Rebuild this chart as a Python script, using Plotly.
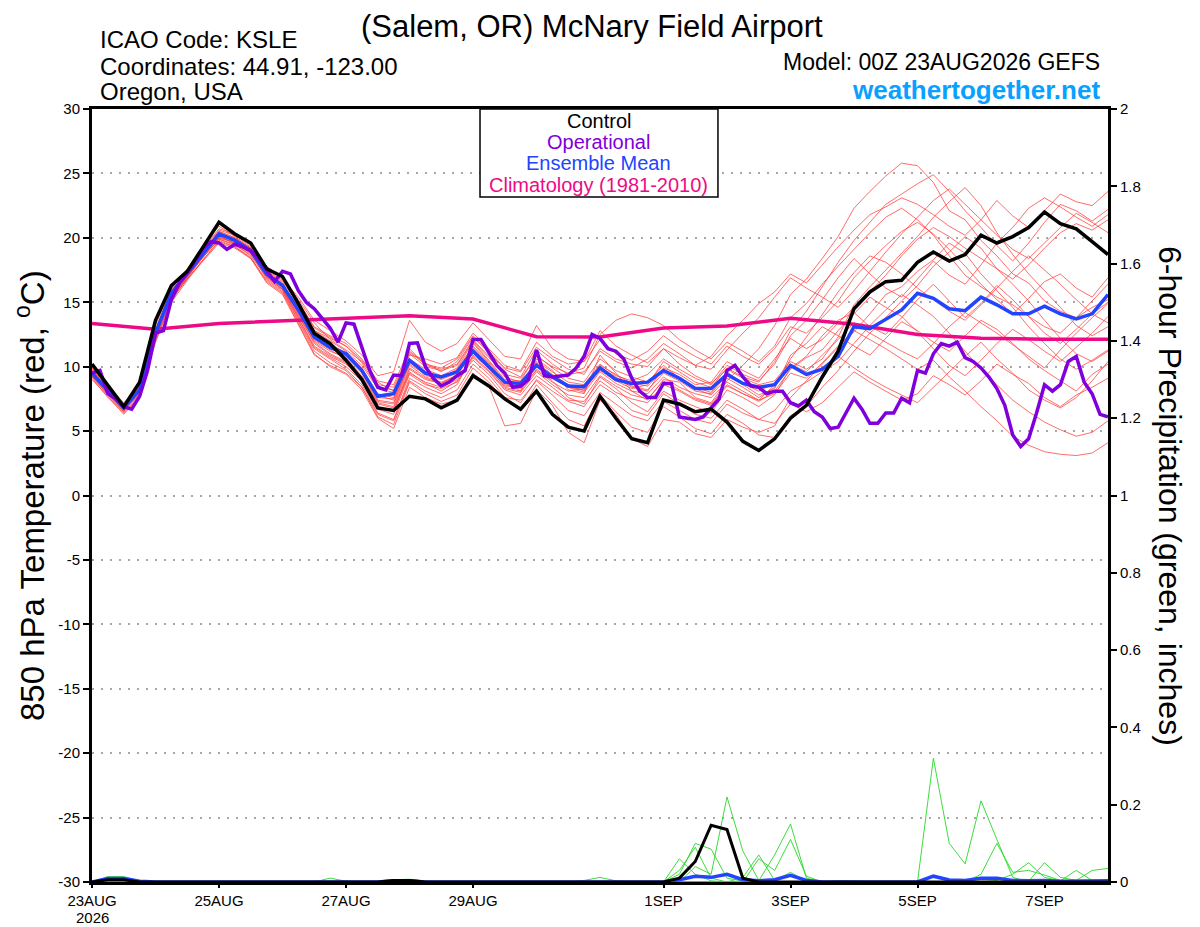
import pandas as pd
import plotly.graph_objects as go

# GEFS 00Z 23AUG2026, 850 hPa temperature (C), 6-hourly steps 0-384h
m01 = [9.3, 7.8, 6.5, 8.6, 13.2, 16.1, 17.5, 19.4, 20.9, 20.1, 19.3, 17.0, 16.0,
       13.8, 11.6, 10.8, 10.2, 9.1, 6.9, 6.5, 9.8, 9.0, 8.7, 9.2, 11.8, 10.4,
       8.9, 8.1, 10.6, 9.7, 8.2, 7.9, 10.9, 9.5, 8.1, 7.4, 9.0, 8.8, 7.6,
       7.2, 8.9, 10.1, 11.4, 13.2, 15.6, 16.8, 18.4, 20.1, 22.3, 23.6, 24.8, 25.8,
       25.6, 24.3, 22.1, 21.4, 19.8, 18.6, 17.2, 16.5, 15.1, 14.3, 13.8, 14.6, 15.2]
m02 = [9.8, 8.4, 7.1, 8.0, 12.2, 15.4, 17.0, 18.6, 20.0, 19.6, 18.8, 17.4, 16.6,
       14.9, 12.8, 12.0, 11.2, 10.1, 8.3, 8.0, 11.2, 10.3, 9.6, 10.4, 12.3, 11.1,
       9.8, 9.2, 11.3, 10.2, 9.4, 9.6, 11.2, 10.4, 9.9, 10.6, 11.8, 11.0, 10.1,
       10.8, 12.4, 13.6, 14.9, 15.8, 17.2, 16.5, 17.9, 19.3, 20.6, 21.8, 22.4, 23.1,
       22.6, 21.8, 20.9, 20.2, 21.4, 22.9, 21.7, 20.8, 22.1, 23.4, 22.8, 22.5, 23.6]
m03 = [9.1, 7.6, 6.4, 7.8, 12.0, 15.1, 16.9, 18.5, 20.1, 19.9, 19.2, 17.8, 16.9,
       15.2, 13.4, 12.1, 11.3, 10.4, 8.8, 8.1, 10.9, 10.6, 10.2, 10.7, 12.6, 11.4,
       10.1, 9.7, 11.9, 10.8, 10.2, 10.4, 12.8, 11.6, 10.9, 10.3, 11.4, 10.2, 9.3,
       8.7, 9.8, 9.1, 8.6, 8.9, 10.4, 9.8, 10.6, 12.3, 14.8, 16.2, 17.5, 18.8,
       20.1, 21.6, 22.8, 23.9, 22.5, 20.4, 18.7, 17.2, 15.9, 14.6, 13.2, 12.4, 13.1]
m04 = [9.6, 8.3, 6.9, 8.4, 12.9, 15.9, 17.4, 18.9, 20.2, 19.5, 18.6, 16.9, 16.0,
       13.9, 11.9, 11.0, 10.4, 9.2, 7.1, 6.8, 9.6, 8.7, 8.1, 8.9, 10.5, 9.4,
       7.9, 7.2, 9.0, 8.1, 7.3, 6.9, 8.6, 7.8, 6.6, 6.2, 7.9, 7.1, 6.3,
       6.0, 7.4, 6.7, 5.9, 5.6, 7.1, 6.5, 7.2, 8.4, 9.6, 8.8, 8.1, 7.4,
       7.9, 9.3, 8.6, 7.8, 8.9, 10.2, 9.4, 8.7, 7.6, 6.9, 7.8, 8.4, 9.1]
m05 = [9.4, 8.0, 6.7, 8.1, 12.4, 15.5, 16.8, 18.2, 19.6, 19.2, 18.4, 16.7, 15.8,
       13.6, 11.4, 10.6, 9.8, 8.6, 6.4, 5.9, 9.1, 8.4, 7.9, 8.6, 10.9, 9.9,
       8.4, 8.1, 9.8, 8.9, 7.6, 7.1, 9.2, 8.3, 7.2, 6.5, 8.1, 7.4, 6.9,
       6.4, 8.2, 7.6, 6.9, 7.8, 9.9, 10.8, 12.4, 13.6, 14.2, 13.1, 12.5, 13.8,
       15.2, 16.4, 15.1, 13.8, 14.9, 16.3, 15.2, 13.9, 12.6, 11.8, 12.9, 14.1, 13.4]
m06 = [9.7, 8.2, 7.0, 8.3, 12.7, 15.8, 17.3, 18.9, 20.5, 20.0, 19.2, 17.3, 16.4,
       14.6, 12.4, 11.7, 11.1, 9.9, 7.8, 7.4, 10.2, 9.4, 9.0, 9.5, 11.4, 10.1,
       8.6, 8.3, 10.0, 9.1, 8.4, 8.0, 9.6, 8.7, 8.1, 7.9, 9.2, 8.4, 7.9,
       7.6, 8.8, 8.1, 7.4, 7.9, 9.5, 9.1, 10.3, 11.6, 12.8, 12.1, 11.4, 10.6,
       9.8, 10.5, 9.2, 8.1, 6.9, 5.8, 4.6, 3.9, 3.4, 3.2, 3.1, 3.3, 4.1]
m07 = [9.2, 7.9, 6.6, 7.9, 12.3, 15.3, 16.9, 18.6, 20.4, 19.7, 18.9, 16.8, 15.9,
       13.5, 11.2, 10.3, 9.7, 8.4, 6.1, 5.5, 8.8, 7.9, 7.3, 7.8, 9.9, 8.8,
       7.4, 6.6, 8.6, 7.2, 5.9, 5.4, 7.8, 6.5, 5.3, 4.9, 6.9, 6.1, 5.2,
       4.8, 6.3, 5.6, 4.7, 4.5, 6.2, 6.9, 8.4, 9.7, 11.2, 12.6, 13.8, 15.1,
       16.3, 17.8, 18.9, 20.1, 19.2, 17.6, 16.4, 15.1, 13.6, 12.2, 11.0, 10.4, 11.2]
m08 = [9.9, 8.5, 7.2, 8.5, 12.8, 15.6, 17.1, 18.7, 20.0, 19.7, 19.1, 17.5, 16.7,
       15.0, 13.1, 12.4, 11.8, 10.6, 8.9, 8.6, 11.4, 10.1, 9.8, 10.2, 12.1, 10.8,
       9.2, 8.8, 10.4, 9.6, 8.8, 8.6, 10.2, 9.3, 8.9, 9.4, 10.6, 9.8, 9.1,
       8.6, 10.1, 9.4, 8.9, 10.2, 12.4, 13.6, 15.2, 16.9, 18.4, 17.2, 16.1, 15.4,
       16.8, 18.2, 17.1, 16.4, 17.9, 19.6, 20.8, 22.3, 23.1, 22.4, 21.6, 20.9, 21.8]
m09 = [9.5, 8.1, 6.9, 8.2, 12.5, 15.6, 17.1, 18.7, 20.2, 19.8, 19.1, 17.2, 16.2,
       14.1, 12.0, 11.2, 10.7, 9.5, 7.3, 7.1, 10.1, 9.2, 8.8, 9.3, 11.1, 9.8,
       8.5, 8.4, 9.7, 8.8, 8.1, 8.3, 9.8, 9.0, 8.5, 8.2, 9.5, 8.9, 8.1,
       7.9, 9.4, 8.6, 7.8, 8.3, 10.9, 11.8, 13.1, 12.4, 11.6, 10.9, 12.2, 13.5,
       12.8, 11.9, 11.2, 12.4, 13.6, 12.9, 11.8, 10.6, 9.7, 8.9, 8.1, 9.4, 10.2]
m10 = [9.0, 7.7, 6.3, 7.7, 11.9, 15.0, 16.7, 18.3, 19.8, 19.3, 18.5, 16.6, 15.7,
       13.3, 11.0, 10.0, 9.4, 8.2, 6.0, 5.2, 8.4, 7.6, 7.1, 7.4, 9.5, 8.5,
       5.4, 5.6, 8.2, 7.0, 4.9, 4.1, 7.4, 6.3, 4.4, 3.8, 5.9, 5.7, 4.8,
       4.5, 5.9, 5.3, 4.9, 5.4, 7.6, 8.9, 10.2, 11.5, 12.7, 14.1, 15.6, 16.2,
       17.4, 18.3, 19.6, 18.8, 17.2, 15.9, 14.6, 13.1, 11.8, 10.6, 9.8, 10.5, 11.3]
m11 = [9.6, 8.2, 6.8, 8.3, 12.6, 15.8, 17.4, 19.1, 20.6, 20.2, 19.4, 17.6, 16.8,
       15.4, 13.6, 12.8, 12.0, 10.9, 9.3, 9.6, 13.6, 11.9, 11.2, 11.8, 13.4, 12.1,
       10.8, 10.6, 13.2, 11.4, 10.6, 10.4, 12.1, 11.0, 10.5, 11.2, 12.4, 11.5, 10.8,
       10.2, 11.6, 10.8, 10.2, 11.4, 13.1, 12.6, 13.8, 15.1, 16.9, 18.2, 19.4, 20.5,
       21.2, 20.3, 19.1, 17.8, 16.4, 15.2, 14.1, 15.3, 16.6, 17.2, 16.1, 15.4, 16.9]
m12 = [9.3, 7.9, 6.6, 8.0, 12.4, 15.6, 17.3, 18.8, 20.3, 19.9, 19.0, 17.1, 16.3,
       14.3, 12.2, 11.4, 10.9, 9.6, 7.6, 7.5, 10.4, 9.3, 9.1, 9.8, 11.6, 10.3,
       8.8, 8.6, 10.3, 9.4, 8.6, 8.1, 10.0, 9.2, 8.4, 8.1, 9.9, 9.4, 8.6,
       8.8, 10.4, 9.7, 9.1, 10.6, 12.2, 11.4, 12.1, 13.4, 14.6, 15.8, 17.1, 18.6,
       19.9, 20.8, 20.1, 19.2, 18.4, 17.6, 16.8, 17.9, 19.2, 20.4, 21.1, 20.6, 21.4]
m13 = [9.8, 8.3, 7.0, 8.4, 12.8, 15.9, 17.2, 18.8, 20.1, 19.6, 18.9, 17.3, 16.5,
       14.5, 12.5, 11.8, 11.0, 9.8, 7.9, 7.6, 10.6, 9.8, 9.3, 9.9, 11.9, 10.5,
       9.0, 8.9, 10.9, 9.9, 9.1, 8.8, 10.6, 9.7, 9.2, 8.8, 10.1, 9.1, 8.4,
       8.0, 9.6, 8.7, 8.1, 8.7, 10.1, 9.3, 9.9, 10.8, 9.9, 9.1, 8.4, 7.8,
       7.2, 8.4, 9.6, 10.8, 11.9, 10.6, 9.5, 8.2, 7.4, 6.8, 7.6, 8.9, 10.4]
m14 = [9.4, 8.0, 6.7, 8.1, 12.5, 15.7, 17.2, 18.7, 20.2, 19.8, 19.0, 17.2, 16.4,
       14.7, 12.8, 12.2, 11.6, 10.3, 8.4, 8.2, 11.0, 10.0, 9.7, 10.1, 12.0, 10.7,
       9.4, 9.1, 10.8, 10.0, 9.5, 9.9, 12.5, 13.6, 14.1, 13.8, 13.2, 12.1, 11.3,
       10.6, 11.9, 11.2, 10.4, 11.6, 13.8, 14.9, 16.4, 17.8, 19.1, 20.4, 21.6, 22.3,
       21.4, 20.2, 18.6, 17.1, 16.2, 15.4, 14.8, 13.9, 13.1, 12.6, 13.8, 15.1, 16.4]
m15 = [9.7, 8.3, 6.9, 8.2, 12.6, 15.6, 17.0, 18.5, 19.9, 19.4, 18.7, 17.0, 16.1,
       14.0, 11.8, 10.9, 10.3, 9.0, 6.7, 6.3, 9.4, 8.6, 8.3, 8.8, 10.7, 9.6,
       8.2, 7.8, 9.3, 8.4, 7.4, 7.3, 8.9, 8.0, 7.5, 7.2, 8.6, 8.1, 7.4,
       7.0, 8.5, 7.9, 7.3, 8.1, 9.8, 10.7, 11.3, 12.8, 14.1, 15.4, 14.6, 13.9,
       12.7, 11.4, 10.1, 9.3, 10.5, 11.8, 12.9, 12.1, 11.2, 10.4, 11.5, 12.6, 13.9]
m16 = [9.5, 8.2, 6.8, 8.3, 12.8, 16.0, 17.6, 19.2, 20.7, 20.3, 19.5, 17.7, 16.9,
       15.1, 13.0, 12.3, 11.6, 10.5, 8.6, 8.4, 11.1, 10.2, 9.9, 10.6, 12.4, 11.2,
       9.9, 9.6, 11.5, 10.6, 9.8, 9.4, 11.4, 10.6, 10.2, 10.0, 11.4, 10.7, 10.1,
       9.8, 11.3, 12.6, 13.8, 15.4, 16.9, 16.1, 15.4, 14.6, 15.9, 17.4, 18.9, 20.3,
       21.6, 22.9, 23.8, 22.6, 21.4, 20.2, 19.1, 18.4, 19.6, 20.8, 21.9, 21.2, 20.4]
m17 = [9.2, 7.8, 6.5, 7.9, 12.1, 15.2, 16.8, 18.3, 19.7, 19.3, 18.4, 16.5, 15.6,
       13.2, 10.9, 10.1, 9.5, 8.4, 6.3, 5.8, 8.9, 8.1, 7.6, 8.2, 10.2, 9.1,
       7.6, 7.4, 8.9, 7.8, 6.6, 6.2, 8.0, 7.1, 6.2, 5.8, 7.3, 6.6, 5.9,
       5.6, 7.1, 6.4, 5.9, 6.6, 8.1, 8.8, 9.6, 10.4, 11.8, 13.2, 14.4, 15.6,
       14.8, 13.9, 12.6, 11.2, 9.8, 8.6, 7.4, 6.5, 5.7, 5.1, 4.6, 4.9, 5.8]
m18 = [9.6, 8.1, 6.9, 8.3, 12.7, 15.7, 17.3, 18.9, 20.4, 19.9, 19.1, 17.2, 16.3,
       14.4, 12.3, 11.5, 10.8, 9.6, 7.4, 7.2, 10.3, 9.6, 9.2, 9.7, 11.5, 10.2,
       8.7, 8.5, 10.1, 9.3, 8.6, 8.4, 10.1, 9.4, 8.7, 8.5, 9.7, 9.0, 8.3,
       7.8, 9.1, 8.4, 7.6, 8.4, 10.6, 12.3, 14.1, 15.8, 17.3, 18.6, 18.1, 17.2,
       16.1, 15.2, 14.3, 13.6, 14.8, 16.1, 17.4, 18.6, 17.5, 16.4, 15.2, 14.1, 15.0]
m19 = [9.4, 8.0, 6.8, 8.2, 12.6, 15.8, 17.5, 19.0, 20.5, 20.0, 19.2, 17.3, 16.4,
       14.2, 12.1, 11.3, 10.6, 9.3, 7.2, 6.9, 9.9, 9.1, 8.7, 9.4, 11.3, 10.0,
       8.7, 8.4, 10.2, 9.3, 8.4, 8.2, 9.7, 8.9, 8.3, 8.6, 10.4, 9.6, 8.8,
       8.4, 9.9, 9.2, 8.8, 10.4, 12.8, 14.3, 16.2, 18.1, 19.8, 21.2, 22.6, 23.4,
       24.2, 24.9, 23.6, 22.1, 20.8, 19.4, 18.2, 19.6, 21.2, 22.6, 22.1, 21.3, 22.2]
m20 = [9.3, 8.1, 6.7, 8.0, 12.3, 15.4, 17.0, 18.5, 19.9, 19.5, 18.8, 17.0, 16.0,
       13.7, 11.5, 10.7, 10.0, 8.9, 6.8, 6.6, 9.5, 8.8, 8.4, 9.0, 10.8, 9.7,
       8.3, 8.0, 9.6, 8.6, 7.8, 7.6, 9.3, 8.5, 7.8, 7.5, 8.9, 8.2, 7.5,
       7.1, 8.6, 7.9, 7.4, 8.6, 10.2, 9.6, 10.9, 12.1, 13.4, 12.6, 11.9, 11.2,
       10.6, 11.8, 13.1, 14.2, 13.4, 12.6, 11.7, 10.8, 9.9, 11.3, 12.6, 13.8, 14.9]
MEMBERS = [m01, m02, m03, m04, m05, m06, m07, m08, m09, m10,
           m11, m12, m13, m14, m15, m16, m17, m18, m19, m20]

control = [10.2, 8.5, 6.9, 8.8, 13.6, 16.3, 17.4, 19.3, 21.2, 20.3, 19.6, 17.6,
           17.0, 14.9, 12.6, 11.8, 10.5, 9.0, 6.8, 6.6, 7.7, 7.5, 6.8, 7.4,
           9.3, 8.5, 7.5, 6.7, 8.1, 6.3, 5.3, 5.0, 7.7, 6.0, 4.4, 4.1,
           7.4, 7.1, 6.5, 6.7, 5.7, 4.2, 3.5, 4.4, 6.0, 7.0, 9.2, 11.2,
           14.5, 15.8, 16.6, 16.7, 18.1, 18.9, 18.2, 18.7, 20.2, 19.6, 20.1, 20.8,
           22.0, 21.1, 20.7, 19.7, 18.7]
ens_mean = [9.5, 8.1, 6.8, 8.2, 12.6, 15.7, 17.2, 18.8, 20.3, 19.8, 19.0, 17.2,
            16.3, 14.4, 12.3, 11.5, 11.0, 9.7, 7.7, 7.9, 10.5, 9.5, 9.2, 9.6,
            11.2, 10.0, 8.8, 8.7, 10.1, 9.2, 8.5, 8.45, 9.9, 9.0, 8.7, 8.8,
            9.7, 9.1, 8.3, 8.3, 9.4, 8.7, 8.4, 8.6, 10.1, 9.4, 9.8, 10.8,
            13.1, 12.95, 13.7, 14.4, 15.7, 15.3, 14.5, 14.35, 15.4, 14.8, 14.1, 14.1,
            14.7, 14.1, 13.7, 14.1, 15.6]
# operational run is 3-hourly
operational = [9.5, 9.7, 7.9, 7.5, 6.9, 6.7, 7.7, 9.7,
               12.6, 12.8, 15.2, 16.5, 17.3, 18.3, 19.2, 19.7,
               19.6, 19.1, 19.5, 19.3, 19.0, 18.4, 17.5, 16.6,
               17.4, 17.2, 15.9, 15.0, 14.5, 13.7, 13.0, 11.9,
               13.4, 13.3, 11.5, 9.7, 8.4, 8.2, 9.35, 9.3,
               11.8, 11.85, 10.0, 9.1, 8.5, 8.8, 9.3, 9.7,
               12.1, 12.1, 11.1, 10.1, 9.5, 8.4, 8.5, 9.0,
               11.3, 9.3, 9.2, 9.25, 9.35, 9.9, 10.8, 12.5,
               12.2, 11.4, 11.2, 10.6, 9.1, 8.1, 7.6, 7.6,
               8.7, 8.7, 6.1, 6.0, 5.9, 6.1, 6.8, 7.5,
               9.7, 10.1, 9.2, 8.5, 8.4, 7.9, 8.1, 8.1,
               7.2, 6.95, 7.4, 6.5, 6.1, 5.2, 5.3, 6.4,
               7.55, 6.7, 5.6, 5.6, 6.4, 6.4, 7.55, 7.2,
               9.7, 9.5, 11.0, 11.8, 11.6, 11.9, 10.7, 10.4,
               9.9, 9.2, 8.3, 7.0, 4.7, 3.8, 4.4, 6.4,
               8.6, 8.1, 8.6, 10.4, 10.8, 8.8, 7.9, 6.3,
               6.1]
# 1981-2010 climatology at 00Z each day
climatology = [13.35, 12.9, 13.35, 13.55, 13.75, 13.95, 13.7, 12.33, 12.3,
               13.0, 13.15, 13.75, 13.3, 12.5, 12.2, 12.13, 12.13]

# 6-hour precipitation (inches), keyed by 6-hour step; missing steps are 0
precip_control = {1: 0.006, 2: 0.006, 19: 0.004, 20: 0.004, 37: 0.01,
                  38: 0.053, 39: 0.147, 40: 0.136, 41: 0.01}
precip_mean = {1: 0.009, 2: 0.009, 3: 0.002, 15: 0.002, 19: 0.003, 20: 0.003,
               32: 0.002, 37: 0.006, 38: 0.015, 39: 0.012, 40: 0.02, 41: 0.006,
               42: 0.003, 43: 0.006, 44: 0.017, 45: 0.004, 53: 0.015, 54: 0.005,
               55: 0.004, 56: 0.01, 57: 0.01, 58: 0.004, 59: 0.003, 60: 0.004,
               61: 0.002, 62: 0.003, 63: 0.002, 64: 0.003}
precip_members = [
    {1: 0.014, 2: 0.014, 3: 0.003, 15: 0.01, 16: 0.002},
    {19: 0.006, 20: 0.007, 21: 0.002, 31: 0.004, 32: 0.012, 33: 0.003, 37: 0.06, 38: 0.02, 39: 0.003},
    {37: 0.02, 38: 0.10, 39: 0.085, 40: 0.01, 41: 0.002},
    {38: 0.04, 39: 0.02, 40: 0.22, 41: 0.08, 42: 0.004},
    {37: 0.03, 38: 0.09, 39: 0.01, 41: 0.012, 42: 0.07, 43: 0.004, 44: 0.025, 45: 0.003},
    {42: 0.003, 43: 0.07, 44: 0.15, 45: 0.01},
    {42: 0.06, 43: 0.03, 44: 0.11, 45: 0.015, 47: 0.004, 48: 0.003},
    {53: 0.32, 54: 0.10, 55: 0.047, 56: 0.21, 57: 0.11, 58: 0.012},
    {56: 0.02, 57: 0.10, 58: 0.025, 59: 0.03, 60: 0.018, 61: 0.004},
    {57: 0.004, 58: 0.02, 59: 0.05, 60: 0.012, 61: 0.003, 62: 0.03, 63: 0.004},
    {59: 0.002, 60: 0.05, 61: 0.012, 62: 0.004, 63: 0.03, 64: 0.035},
]

TEMP_TICKS = [30, 25, 20, 15, 10, 5, 0, -5, -10, -15, -20, -25, -30]
PRECIP_TICKS = [0, 0.2, 0.4, 0.6, 0.8, 1, 1.2, 1.4, 1.6, 1.8, 2]
DATE_TICKS = ['2026-08-23', '2026-08-25', '2026-08-27', '2026-08-29',
              '2026-09-01', '2026-09-03', '2026-09-05', '2026-09-07']
DATE_LABELS = ['23AUG', '25AUG', '27AUG', '29AUG', '1SEP', '3SEP', '5SEP', '7SEP']
YEAR_LABEL = '2026'

FONT = 'Liberation Sans, Arial, Helvetica, sans-serif'
RED = 'rgba(255,60,60,0.75)'
GREEN = 'rgba(40,215,40,0.9)'
PURPLE = '#7f00dc'
BLUE = '#2244ff'
PINK = '#ee0a87'
SKY = '#0aa0ff'


def expand(steps, n):
    return [steps.get(i, 0.0) for i in range(n)]


def main():
    t6 = pd.date_range('2026-08-23 00:00', periods=len(control), freq='6h')
    t3 = pd.date_range('2026-08-23 00:00', periods=len(operational), freq='3h')
    t24 = pd.date_range('2026-08-23 00:00', periods=len(climatology), freq='D')

    fig = go.Figure()
    for m in MEMBERS:  # ensemble members
        fig.add_trace(go.Scatter(x=t6, y=m, mode='lines', line=dict(color=RED, width=1)))
    for p in precip_members:
        fig.add_trace(go.Scatter(x=t6, y=expand(p, len(t6)), mode='lines', yaxis='y2',
                                 line=dict(color=GREEN, width=1)))
    fig.add_trace(go.Scatter(x=t6, y=expand(precip_mean, len(t6)), mode='lines', yaxis='y2',
                             line=dict(color=BLUE, width=3.5)))
    fig.add_trace(go.Scatter(x=t6, y=expand(precip_control, len(t6)), mode='lines', yaxis='y2',
                             line=dict(color='black', width=3)))
    fig.add_trace(go.Scatter(x=t24, y=climatology, mode='lines', line=dict(color=PINK, width=3.5)))
    fig.add_trace(go.Scatter(x=t6, y=ens_mean, mode='lines', line=dict(color=BLUE, width=3.5)))
    fig.add_trace(go.Scatter(x=t3, y=operational, mode='lines', line=dict(color=PURPLE, width=3.5)))
    fig.add_trace(go.Scatter(x=t6, y=control, mode='lines', line=dict(color='black', width=3.5)))

    # the page adds an 8px body margin, so margins are shifted by that much
    fig.update_layout(
        width=1200, height=927,
        margin=dict(l=84, r=100, t=101, b=53),
        plot_bgcolor='white', paper_bgcolor='white',
        showlegend=False,
        font=dict(family=FONT, color='black', size=15),
        xaxis=dict(type='date', range=['2026-08-23', '2026-09-08'],
                   tickvals=DATE_TICKS, ticktext=DATE_LABELS, automargin=False,
                   showgrid=False, zeroline=False,
                   showline=True, linewidth=3, linecolor='black', mirror=True,
                   ticks='outside', ticklen=3, tickwidth=1.5, tickcolor='black',
                   tickfont=dict(size=15)),
        yaxis=dict(range=[-30, 30], tickvals=TEMP_TICKS, automargin=False,
                   ticktext=[str(v) for v in TEMP_TICKS],
                   showgrid=True, gridcolor='#a8a8a8', griddash='2px,7px', gridwidth=1.5,
                   zeroline=False, showline=True, linewidth=3, linecolor='black',
                   ticks='outside', ticklen=6, tickwidth=1.5, tickcolor='black',
                   tickfont=dict(size=15)),
        yaxis2=dict(range=[0, 2], tickvals=PRECIP_TICKS, overlaying='y', side='right',
                    automargin=False, showgrid=False, zeroline=False,
                    showline=True, linewidth=3, linecolor='black',
                    ticks='outside', ticklen=6, tickwidth=1.5, tickcolor='black',
                    tickfont=dict(size=15)),
    )

    # year under the first date label
    fig.add_annotation(x=0.0, y=-0.0453, xref='paper', yref='paper', text=YEAR_LABEL,
                       showarrow=False, xanchor='center', yanchor='middle',
                       font=dict(size=15, color='black'))

    # title, hung from the top edge of the figure
    fig.add_annotation(x=0.4921, y=1.1307, xref='paper', yref='paper',
                       text='(Salem, OR) McNary Field Airport', borderpad=0,
                       showarrow=False, xanchor='center', yanchor='top',
                       font=dict(size=31, color='black'))

    # header texts
    notes = [
        dict(x=0.0059, y=1.0893, text='ICAO Code: KSLE', size=24, xanchor='left'),
        dict(x=0.0059, y=1.0556, text='Coordinates: 44.91, -123.00', size=24, xanchor='left'),
        dict(x=0.0059, y=1.0220, text='Oregon, USA', size=24, xanchor='left'),
        dict(x=0.9941, y=1.0605, text='Model: 00Z 23AUG2026 GEFS', size=23, xanchor='right'),
    ]
    for n in notes:
        fig.add_annotation(x=n['x'], y=n['y'], xref='paper', yref='paper', text=n['text'],
                           showarrow=False, xanchor=n['xanchor'], yanchor='middle',
                           font=dict(size=n['size'], color='black'))
    fig.add_annotation(x=0.9941, y=1.0250, xref='paper', yref='paper',
                       text='<b>weathertogether.net</b>', showarrow=False,
                       xanchor='right', yanchor='middle', font=dict(size=26, color=SKY))

    # axis titles
    fig.add_annotation(x=-0.061, y=0.4994, xref='paper', yref='paper',
                       text='850 hPa Temperature (red, <sup>o</sup>C)', textangle=-90,
                       showarrow=False, xanchor='center', yanchor='middle',
                       font=dict(size=33, color='black'))
    fig.add_annotation(x=1.0610, y=0.4994, xref='paper', yref='paper',
                       text='6-hour Precipitation (green, inches)', textangle=90,
                       showarrow=False, xanchor='center', yanchor='middle',
                       font=dict(size=32, color='black'))

    # legend box
    fig.add_shape(type='rect', xref='paper', yref='paper', x0=0.3819, x1=0.6161,
                  y0=0.8862, y1=1.0, line=dict(color='black', width=1.5),
                  fillcolor='white', layer='above')
    legend = [('Control', 'black', 0.9845), ('Operational', PURPLE, 0.9573),
              ('Ensemble Mean', BLUE, 0.9301), ('Climatology (1981-2010)', PINK, 0.9017)]
    for text, color, y in legend:
        fig.add_annotation(x=0.4990, y=y, xref='paper', yref='paper', text=text,
                           showarrow=False, xanchor='center', yanchor='middle',
                           font=dict(size=20, color=color))

    fig.write_html('out.html')


if __name__ == '__main__':
    main()
